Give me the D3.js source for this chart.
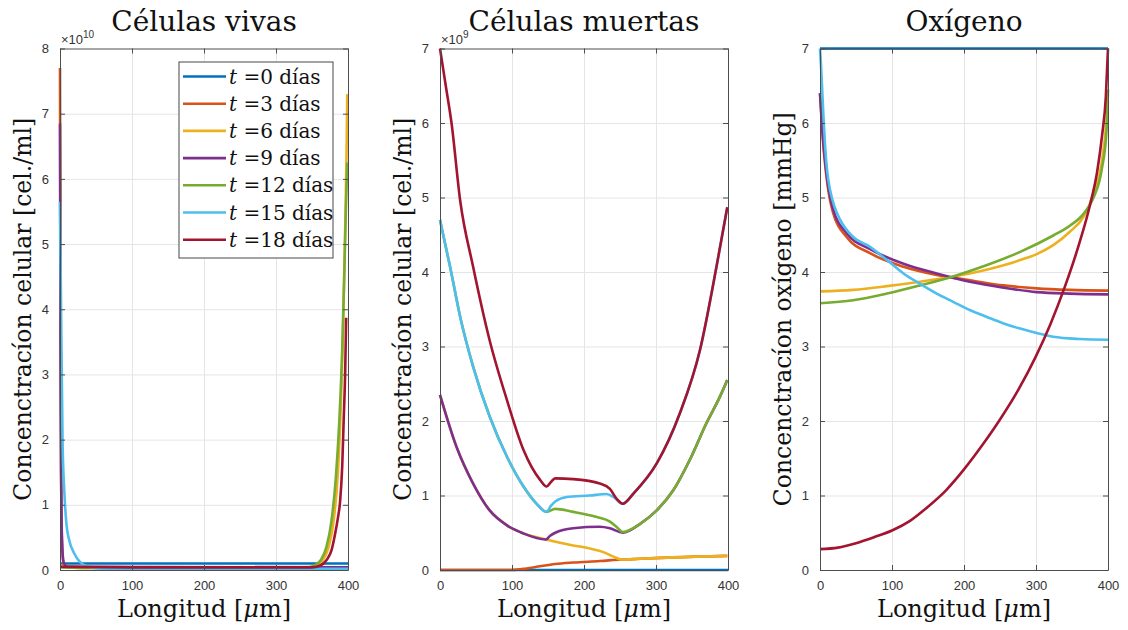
<!DOCTYPE html>
<html lang="es">
<head>
<meta charset="UTF-8">
<title>Células vivas, muertas y oxígeno</title>
<script src="https://cdnjs.cloudflare.com/ajax/libs/d3/7.8.5/d3.min.js"></script>
<style>
    body { margin: 0; background: #fff; }
    svg { display: block; }
    .tick text { font-family: "Liberation Sans", Arial, sans-serif; font-size: 13px; fill: #333; }
    .grid line { stroke: #e5e5e5; stroke-width: 1; }
    .grid path { display: none; }
</style>
</head>
<body>
<svg id="chart" width="1128" height="630"></svg>
<script>
// ---- data (x in µm, y in axis units) ----
const xTicks = [0, 100, 200, 300, 400];
const tDays = [0, 3, 6, 9, 12, 15, 18];
const colors = ["#0072BD", "#D95319", "#EDB120", "#7E2F8E", "#77AC30", "#4DBEEE", "#A2142F"];

const titles = ["Células vivas", "Células muertas", "Oxígeno"];
const yLabels = ["Concenctracíon celular [cel./ml]", "Concenctracíon celular [cel./ml]", "Concenctracíon oxígeno [mmHg]"];
const yMaxes = [8, 7, 7];
const exponents = ["10", "9", null];

// células vivas (x1e10)
const vivas = [
    [[0, 0.1], [400, 0.1]],
    [[0, 7.7], [0.5, 5.2], [1, 3], [1.5, 1.6], [2, 0.9], [3, 0.35], [5, 0.1], [10, 0.04], [50, 0.03], [400, 0.03]],
    [[0, 0.06], [50, 0.04], [340, 0.04], [355, 0.07], [365, 0.15], [373, 0.35], [380, 0.75], [386, 1.5], [390, 2.5], [393, 3.6], [396, 5.2], [398, 6.4], [399, 7.3]],
    [[0, 6.85], [0.5, 4.5], [1, 2.6], [1.5, 1.5], [2, 0.9], [3, 0.4], [5, 0.12], [10, 0.05], [400, 0.04]],
    [[0, 0.04], [50, 0.03], [340, 0.03], [352, 0.06], [362, 0.15], [370, 0.35], [377, 0.75], [383, 1.4], [388, 2.3], [392, 3.4], [395, 4.6], [397, 5.5], [399, 6.25]],
    [[0, 5.65], [1.5, 4.0], [3.5, 2.0], [6, 1.2], [9, 0.7], [13, 0.45], [20, 0.25], [28, 0.12], [40, 0.05], [60, 0.02], [400, 0.02]],
    [[0, 0.05], [100, 0.04], [350, 0.04], [360, 0.06], [370, 0.15], [377, 0.3], [382, 0.55], [386, 0.8], [389, 1.05], [392, 1.6], [394, 2.3], [396, 3.0], [397.5, 3.87]]
];

// células muertas (x1e9)
const muertas = [
    [[0, 0], [400, 0]],
    [[0, 0], [100, 0], [120, 0.02], [139, 0.05], [160, 0.08], [185, 0.1], [222, 0.12], [252, 0.14], [278, 0.15], [324, 0.17], [399, 0.19]],
    [[0, 2.35], [23, 1.65], [46, 1.16], [69, 0.8], [93, 0.6], [116, 0.49], [147, 0.41], [185, 0.33], [208, 0.29], [227, 0.24], [241, 0.18], [252, 0.14], [278, 0.15], [324, 0.17], [399, 0.19]],
    [[0, 2.35], [23, 1.65], [46, 1.16], [69, 0.8], [93, 0.6], [116, 0.49], [147, 0.41], [153, 0.46], [160, 0.5], [185, 0.56], [222, 0.58], [236, 0.56], [254, 0.5], [278, 0.62], [301, 0.8], [324, 1.07], [347, 1.48], [370, 1.97], [389, 2.33], [399, 2.55]],
    [[0, 4.7], [14, 4.07], [28, 3.4], [46, 2.73], [69, 2.06], [93, 1.52], [116, 1.12], [134, 0.89], [148, 0.78], [160, 0.82], [185, 0.78], [218, 0.71], [236, 0.65], [245, 0.58], [254, 0.51], [278, 0.62], [301, 0.8], [324, 1.07], [347, 1.48], [370, 1.97], [389, 2.33], [399, 2.55]],
    [[0, 4.7], [14, 4.07], [28, 3.4], [46, 2.73], [69, 2.06], [93, 1.52], [116, 1.12], [134, 0.89], [148, 0.78], [154, 0.86], [160, 0.92], [176, 0.98], [208, 1.0], [231, 1.02], [241, 0.98], [253, 0.89], [269, 1.03], [301, 1.43], [333, 2.1], [361, 2.95], [384, 4.07], [399, 4.87]],
    [[0, 7.0], [8, 6.5], [16, 6.0], [28, 4.96], [46, 4.07], [69, 3.08], [93, 2.28], [116, 1.61], [139, 1.21], [148, 1.12], [154, 1.18], [160, 1.23], [185, 1.22], [222, 1.16], [236, 1.09], [245, 0.96], [254, 0.89], [269, 1.03], [301, 1.43], [333, 2.1], [361, 2.95], [384, 4.07], [399, 4.87]]
];

// oxígeno (mmHg)
const oxigeno = [
    [[0, 7], [400, 7]],
    [[0, 6.4], [3, 5.9], [6, 5.55], [10, 5.2], [18, 4.8], [37, 4.47], [70, 4.25], [116, 4.07], [162, 3.96], [208, 3.89], [255, 3.82], [301, 3.78], [347, 3.76], [400, 3.75]],
    [[0, 3.74], [46, 3.76], [93, 3.81], [139, 3.87], [185, 3.94], [208, 3.98], [231, 4.03], [255, 4.09], [278, 4.16], [301, 4.24], [324, 4.36], [347, 4.54], [366, 4.74], [380, 5.05], [391, 5.45], [398, 6.03], [400, 6.3]],
    [[0, 6.4], [3, 5.95], [6, 5.6], [10, 5.25], [18, 4.85], [37, 4.52], [69, 4.31], [116, 4.11], [162, 3.98], [208, 3.87], [255, 3.79], [301, 3.73], [347, 3.71], [400, 3.7]],
    [[0, 3.58], [46, 3.62], [93, 3.71], [139, 3.82], [185, 3.94], [231, 4.09], [278, 4.27], [324, 4.49], [347, 4.62], [366, 4.78], [380, 5.0], [391, 5.36], [398, 5.9], [400, 6.45]],
    [[0, 7], [1.5, 6.75], [3, 6.45], [5, 6.05], [7, 5.7], [10, 5.35], [14, 5.1], [20, 4.88], [28, 4.7], [46, 4.47], [69, 4.34], [93, 4.16], [116, 3.98], [139, 3.84], [162, 3.71], [185, 3.6], [208, 3.49], [231, 3.4], [255, 3.31], [278, 3.24], [301, 3.18], [324, 3.13], [361, 3.1], [400, 3.09]],
    [[0, 0.28], [25, 0.3], [50, 0.36], [75, 0.44], [100, 0.53], [125, 0.66], [150, 0.85], [175, 1.07], [200, 1.35], [225, 1.67], [250, 2.02], [275, 2.41], [300, 2.87], [320, 3.3], [340, 3.8], [360, 4.38], [375, 4.9], [385, 5.35], [392, 5.85], [397, 6.35], [400, 7.0]]
];

const panelData = [vivas, muertas, oxigeno];

// ---- layout ----
const svg = d3.select("#chart");
const panelLefts = [60, 440, 820];
const plotW = 288;
const plotTop = 48.5;
const plotBottom = 570;
const serifFont = "'DejaVu Serif', serif";

panelData.forEach((series, p) => {
    const left = panelLefts[p];
    const x = d3.scaleLinear().domain([0, 400]).range([left, left + plotW]);
    const y = d3.scaleLinear().domain([0, yMaxes[p]]).range([plotBottom, plotTop]);
    const yTicks = d3.range(0, yMaxes[p] + 1);
    const h = plotBottom - plotTop;

    const g = svg.append("g");

    // grid
    g.append("g").attr("class", "grid")
        .attr("transform", `translate(0,${plotBottom})`)
        .call(d3.axisBottom(x).tickValues(xTicks.slice(1, -1)).tickSize(-h).tickFormat(""));
    g.append("g").attr("class", "grid")
        .attr("transform", `translate(${left},0)`)
        .call(d3.axisLeft(y).tickValues(yTicks.slice(1, -1)).tickSize(-plotW).tickFormat(""));

    // lines
    const line = d3.line().x(d => x(d[0])).y(d => y(d[1])).curve(d3.curveMonotoneX);
    series.forEach((s, i) => {
        g.append("path")
            .datum(s)
            .attr("fill", "none")
            .attr("stroke", colors[i])
            .attr("stroke-width", 2.6)
            .attr("stroke-linejoin", "round")
            .attr("d", line);
    });

    // axes (box with inward ticks)
    const styleAxis = sel => {
        sel.select(".domain").attr("stroke", "#4d4d4d").attr("stroke-width", 1);
        sel.selectAll(".tick line").attr("stroke", "#4d4d4d");
    };
    g.append("g").attr("transform", `translate(0,${plotBottom})`)
        .call(d3.axisBottom(x).tickValues(xTicks).tickSizeInner(-5).tickSizeOuter(0).tickPadding(11).tickFormat(d3.format("d")))
        .call(styleAxis);
    g.append("g").attr("transform", `translate(0,${plotTop})`)
        .call(d3.axisTop(x).tickValues(xTicks).tickSizeInner(-5).tickSizeOuter(0).tickFormat(""))
        .call(styleAxis);
    g.append("g").attr("transform", `translate(${left},0)`)
        .call(d3.axisLeft(y).tickValues(yTicks).tickSizeInner(-5).tickSizeOuter(0).tickPadding(11).tickFormat(d3.format("d")))
        .call(styleAxis);
    g.append("g").attr("transform", `translate(${left + plotW},0)`)
        .call(d3.axisRight(y).tickValues(yTicks).tickSizeInner(-5).tickSizeOuter(0).tickFormat(""))
        .call(styleAxis);

    // exponent
    if (exponents[p]) {
        const e = g.append("text")
            .attr("x", left + 1).attr("y", plotTop - 5)
            .style("font-family", "'Liberation Sans', Arial, sans-serif")
            .style("font-size", "13px").style("fill", "#333");
        e.append("tspan").text("×10");
        e.append("tspan").attr("dy", -6).style("font-size", "10px").text(exponents[p]);
    }

    // title
    g.append("text")
        .attr("x", left + plotW / 2).attr("y", 31)
        .attr("text-anchor", "middle")
        .style("font-family", serifFont).style("fill", "#111")
        .style("font-size", "28px")
        .text(titles[p]);

    // x label
    const xl = g.append("text")
        .attr("x", left + plotW / 2).attr("y", 617)
        .attr("text-anchor", "middle")
        .style("font-family", serifFont).style("fill", "#111")
        .style("font-size", "24px");
    xl.append("tspan").text("Longitud [");
    xl.append("tspan").style("font-style", "italic").text("μ");
    xl.append("tspan").text("m]");

    // y label
    g.append("text")
        .attr("transform", `translate(${left - 29},${(plotTop + plotBottom) / 2}) rotate(-90)`)
        .attr("text-anchor", "middle")
        .style("font-family", serifFont).style("fill", "#111")
        .style("font-size", "23.5px")
        .text(yLabels[p]);

    // legend (first panel only)
    if (p === 0) {
        const lg = g.append("g");
        lg.append("rect")
            .attr("x", 179).attr("y", 62).attr("width", 154).attr("height", 196)
            .attr("fill", "#fff").attr("stroke", "#333").attr("stroke-width", 0.9);
        tDays.forEach((t, i) => {
            const yy = 76.5 + i * 27.2;
            lg.append("line")
                .attr("x1", 183).attr("x2", 226).attr("y1", yy).attr("y2", yy)
                .attr("stroke", colors[i]).attr("stroke-width", 2.6);
            const tx = lg.append("text")
                .attr("x", 229).attr("y", yy + 7)
                .style("font-family", serifFont).style("fill", "#111")
                .style("font-size", "20px");
            tx.append("tspan").style("font-style", "italic").text("t");
            tx.append("tspan").text(" =" + t + " días");
        });
    }
});
</script>
</body>
</html>
